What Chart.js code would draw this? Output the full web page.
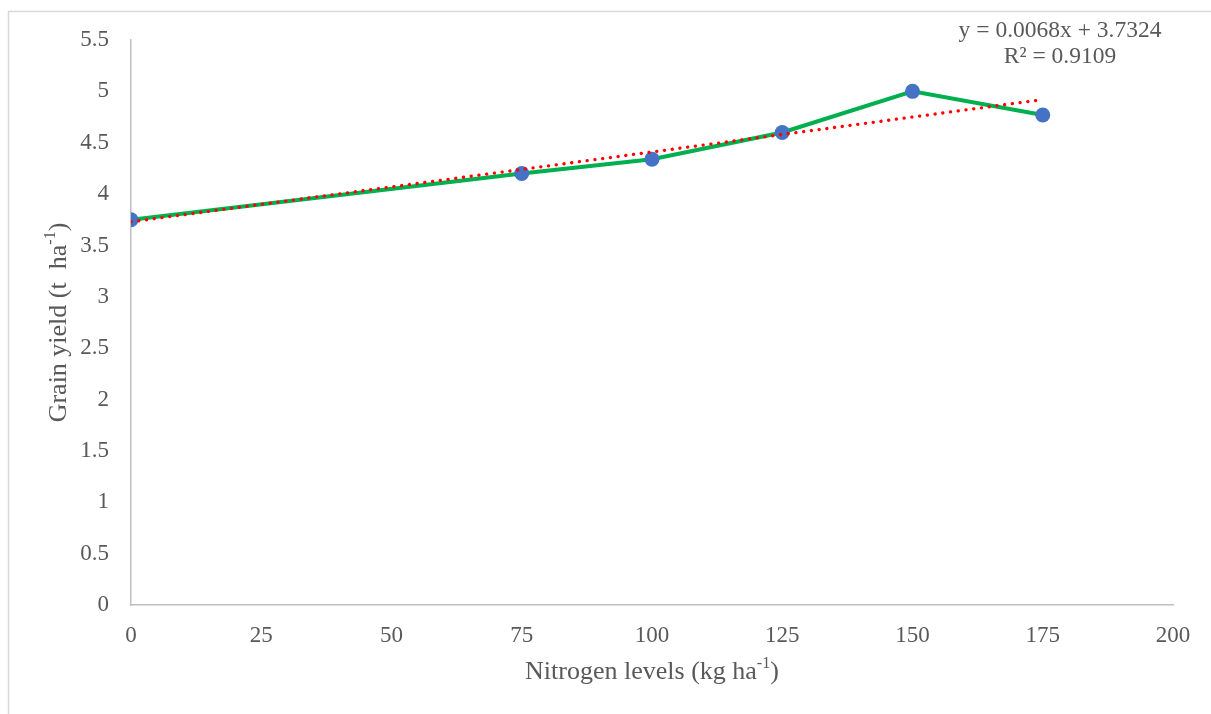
<!DOCTYPE html>
<html>
<head>
<meta charset="utf-8">
<script src="https://cdn.jsdelivr.net/npm/chart.js@4"></script>
<style>
  html, body { margin: 0; padding: 0; background: #fff; }
  canvas { display: block; }
</style>
</head>
<body>
<canvas id="yield-chart" width="1211" height="714"></canvas>
<script>
// nitrogen levels and grain yield
const nitrogenLevels = [0, 75, 100, 125, 150, 175]
const grainYield = [3.75, 4.2, 4.34, 4.6, 5.0, 4.77]
// linear trendline end points (y = 0.0068x + 3.7324)
const trendX = [0, 175]
const trendY = [3.73, 4.92]
const equationLines = ['y = 0.0068x + 3.7324', 'R² = 0.9109']
const xTicks = [0, 25, 50, 75, 100, 125, 150, 175, 200]
const yTicks = [0, 0.5, 1, 1.5, 2, 2.5, 3, 3.5, 4, 4.5, 5, 5.5]

const serif = '"Liberation Serif", "Times New Roman", serif'
const textColor = '#595959'

// draws text with a small raised part, e.g. ha-1
function drawSup(ctx, parts, x, y, size) {
  let total = 0
  parts.forEach(p => {
    ctx.font = (p.sup ? size * 0.62 : size) + 'px ' + serif
    total += ctx.measureText(p.t).width
  })
  let cx = x - total / 2
  parts.forEach(p => {
    ctx.font = (p.sup ? size * 0.62 : size) + 'px ' + serif
    ctx.fillText(p.t, cx, p.sup ? y - size * 0.33 : y)
    cx += ctx.measureText(p.t).width
  })
}

const decor = {
  id: 'decor',
  beforeDraw(chart) {
    const ctx = chart.ctx
    ctx.save()
    ctx.fillStyle = '#fff'
    ctx.fillRect(0, 0, chart.width, chart.height)
    ctx.strokeStyle = '#d9d9d9'
    ctx.lineWidth = 1.5
    ctx.beginPath()
    ctx.moveTo(8.5, chart.height)
    ctx.lineTo(8.5, 11.5)
    ctx.lineTo(chart.width, 11.5)
    ctx.stroke()
    ctx.restore()
  },
  afterDraw(chart) {
    const ctx = chart.ctx
    const area = chart.chartArea
    ctx.save()
    ctx.fillStyle = textColor
    ctx.textAlign = 'left'
    ctx.textBaseline = 'middle'
    // x axis title
    drawSup(ctx, [{ t: 'Nitrogen levels (kg ha' }, { t: '-1', sup: true }, { t: ')' }],
      (area.left + area.right) / 2, 672, 26)
    // y axis title
    ctx.translate(59, (area.top + area.bottom) / 2)
    ctx.rotate(-Math.PI / 2)
    drawSup(ctx, [{ t: 'Grain yield (t  ha' }, { t: '-1', sup: true }, { t: ')' }], 0, 0, 26)
    ctx.restore()
    // trendline equation
    ctx.save()
    ctx.fillStyle = textColor
    ctx.textAlign = 'center'
    ctx.textBaseline = 'middle'
    ctx.font = '23.5px ' + serif
    equationLines.forEach((line, i) => {
      ctx.fillText(line, 1060, 31 + i * 26)
    })
    ctx.restore()
  }
}

const ctxEl = document.getElementById('yield-chart')
new Chart(ctxEl, {
  type: 'scatter',
  data: {
    datasets: [
      {
        label: 'Grain yield',
        data: nitrogenLevels.map((x, i) => ({ x: x, y: grainYield[i] })),
        showLine: true,
        borderColor: '#00b050',
        borderWidth: 4,
        pointRadius: 7.5,
        pointBackgroundColor: '#4472c4',
        pointBorderColor: '#4472c4',
        pointBorderWidth: 0,
        order: 2
      },
      {
        label: 'Linear trend',
        data: trendX.map((x, i) => ({ x: x, y: trendY[i] })),
        showLine: true,
        borderColor: '#ff0000',
        borderWidth: 3.3,
        borderDash: [0.1, 7.7],
        borderCapStyle: 'round',
        pointRadius: 0,
        order: 1
      }
    ]
  },
  options: {
    responsive: false,
    animation: false,
    layout: {
      padding: { left: 0, right: 38, top: 40, bottom: 0 }
    },
    scales: {
      x: {
        type: 'linear',
        min: 0,
        max: 200,
        afterBuildTicks: function (scale) {
          scale.ticks = xTicks.map(v => ({ value: v }))
        },
        afterFit: function (scale) {
          scale.height = 109
        },
        grid: { display: false },
        border: { display: true, color: '#bfbfbf', width: 1.5 },
        ticks: {
          padding: 9,
          color: textColor,
          font: { family: serif, size: 23 },
          maxRotation: 0,
          callback: value => String(value)
        }
      },
      y: {
        min: 0,
        max: 5.5,
        afterBuildTicks: function (scale) {
          scale.ticks = yTicks.map(v => ({ value: v }))
        },
        afterFit: function (scale) {
          scale.width = 131
        },
        grid: { display: false },
        border: { display: true, color: '#bfbfbf', width: 1.5 },
        ticks: {
          padding: 14,
          color: textColor,
          font: { family: serif, size: 23 },
          callback: value => String(value)
        }
      }
    },
    plugins: {
      legend: { display: false },
      tooltip: { enabled: false }
    }
  },
  plugins: [decor]
})
</script>
</body>
</html>
